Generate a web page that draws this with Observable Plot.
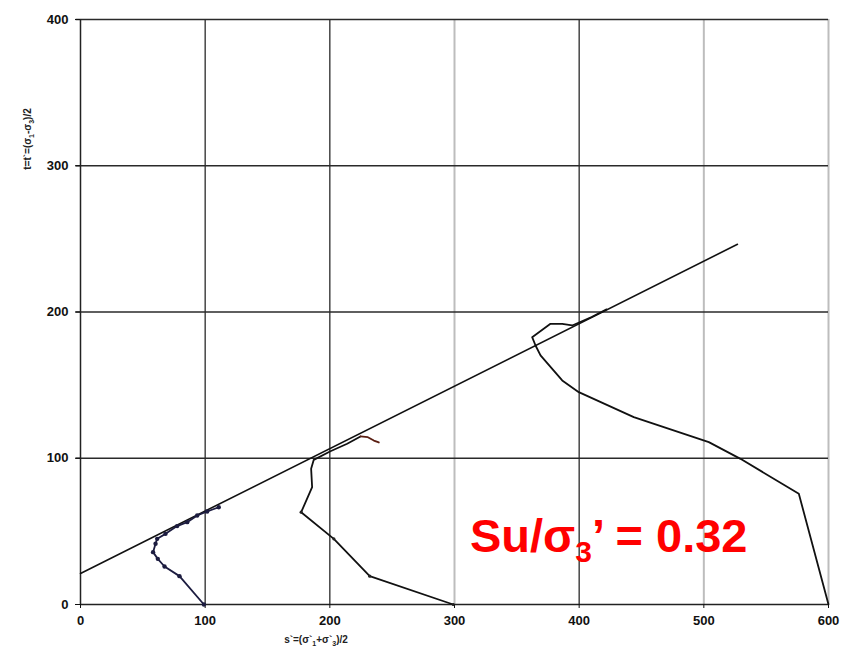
<!DOCTYPE html>
<html><head><meta charset="utf-8">
<script src="https://cdn.jsdelivr.net/npm/d3@7"></script>
<script src="https://cdn.jsdelivr.net/npm/@observablehq/plot@0.6"></script>
<style>body{margin:0;background:#fff;}</style>
</head><body><div id="chart"></div>
<script>
// axis ticks and grid
const xTicks = [0, 100, 200, 300, 400, 500, 600];
const yTicks = [0, 100, 200, 300, 400];
const xGridDark = [100, 200, 400];
const xGridLight = [300, 500, 600];
const yGrid = [100, 200, 300, 400];

// failure envelope
const envS = [0, 527];
const envT = [21.2, 246.3];

// stress path 1 (s'0 = 100)
const p1S = [99, 79.4, 67.4, 62, 58.2, 60.2, 61.5, 68.2, 77.5, 85.6, 93.6, 101.6, 110.9];
const p1T = [0, 19.4, 26, 31.2, 35.8, 41.5, 44.9, 48.3, 53.6, 56.3, 60.9, 63.6, 66.5];

// stress path 2 (s'0 = 300)
const p2S = [299, 232, 203.2, 177, 185.8, 185, 187.1, 200.5, 213.9, 224.6];
const p2T = [0, 19.4, 44.9, 63.1, 80.2, 92.8, 98.9, 104.8, 109.9, 114.9];
const p2TailS = [224.6, 230.5, 235.3, 239.3];
const p2TailT = [114.9, 114.4, 112.1, 110.8];

// stress path 3 (s'0 = 600)
const p3S = [600, 576.2, 529.4, 504, 443.8, 399.7, 386.4, 369, 365, 362.3, 377, 386.4, 394.4, 410, 422];
const p3T = [0, 75.7, 99.6, 111, 128.1, 145.2, 153.2, 170.3, 177.1, 182.8, 191.9, 191.9, 190.8, 196.6, 201.8];

const toRows = (S, T) => S.map((s, i) => ({s, t: T[i]}));
const env = toRows(envS, envT);
const p1 = toRows(p1S, p1T);
const p2 = toRows(p2S, p2T);
const p2Tail = toRows(p2TailS, p2TailT);
const p3 = toRows(p3S, p3T);

const plot = Plot.plot({
  width: 848, height: 665,
  marginLeft: 80, marginRight: 20, marginTop: 19, marginBottom: 61,
  x: {domain: [0, 600]},
  y: {domain: [0, 400]},
  style: {fontFamily: "'Liberation Sans', Arial, sans-serif", fontSize: "13px", fontWeight: "bold", background: "#fff", color: "#111"},
  marks: [
    Plot.ruleX(xGridLight, {stroke: "#bdbdbd", strokeWidth: 2}),
    Plot.ruleX(xGridDark, {stroke: "#2a2a2a", strokeWidth: 1.3}),
    Plot.ruleY(yGrid, {x1: -3.5, x2: 600, stroke: "#2a2a2a", strokeWidth: 1.3}),
    Plot.ruleY([0], {stroke: "#222", strokeWidth: 1.5}),
    Plot.ruleX([0], {stroke: "#222", strokeWidth: 1.5}),
    Plot.axisX({ticks: xTicks, tickSize: 4, tickPadding: 7, label: null, tickFormat: d => d}),
    Plot.axisY({ticks: yTicks, tickSize: 5, tickPadding: 7, label: null, tickFormat: d => d}),
    Plot.line(env, {x: "s", y: "t", stroke: "#111", strokeWidth: 1.6}),
    Plot.line(p3, {x: "s", y: "t", stroke: "#111", strokeWidth: 1.8}),
    Plot.line(p2, {x: "s", y: "t", stroke: "#111", strokeWidth: 1.8}),
    Plot.line(p2Tail, {x: "s", y: "t", stroke: "#5a1e12", strokeWidth: 1.8}),
    Plot.dot(p2.slice(0, 4), {x: "s", y: "t", r: 1.6, fill: "#222"}),
    Plot.line(p1, {x: "s", y: "t", stroke: "#1c1c40", strokeWidth: 1.8}),
    Plot.dot(p1, {x: "s", y: "t", r: 2.2, fill: "#1c1c40"})
  ]
});
document.getElementById("chart").appendChild(plot);

const svg = d3.select(plot);
const font = "'Liberation Sans', Arial, sans-serif";

// x axis label
const xl = svg.append("text").attr("x", 316).attr("y", 643).attr("text-anchor", "middle")
  .attr("font-family", font).attr("font-size", 10).attr("font-weight", "bold").attr("fill", "#222");
xl.append("tspan").text("s`=(σ`");
xl.append("tspan").attr("dy", 3).attr("font-size", 7).text("1");
xl.append("tspan").attr("dy", -3).text("+σ`");
xl.append("tspan").attr("dy", 3).attr("font-size", 7).text("3");
xl.append("tspan").attr("dy", -3).text(")/2");

// y axis label
const yl = svg.append("text").attr("transform", "translate(31,139) rotate(-90)").attr("text-anchor", "middle")
  .attr("font-family", font).attr("font-size", 10).attr("font-weight", "bold").attr("fill", "#222");
yl.append("tspan").text("t=t`=(σ");
yl.append("tspan").attr("dy", 3).attr("font-size", 7).text("1");
yl.append("tspan").attr("dy", -3).text("-σ");
yl.append("tspan").attr("dy", 3).attr("font-size", 7).text("3");
yl.append("tspan").attr("dy", -3).text(")/2");

// annotation
const an = svg.append("text").attr("x", 470).attr("y", 552).attr("text-anchor", "start")
  .attr("font-family", font).attr("font-size", 47).attr("font-weight", "bold").attr("fill", "#ff0000");
an.append("tspan").text("Su/σ");
an.append("tspan").attr("dy", 10).attr("font-size", 30).text("3");
an.append("tspan").attr("dy", -10).text("’ = 0.32");
</script>
</body></html>
